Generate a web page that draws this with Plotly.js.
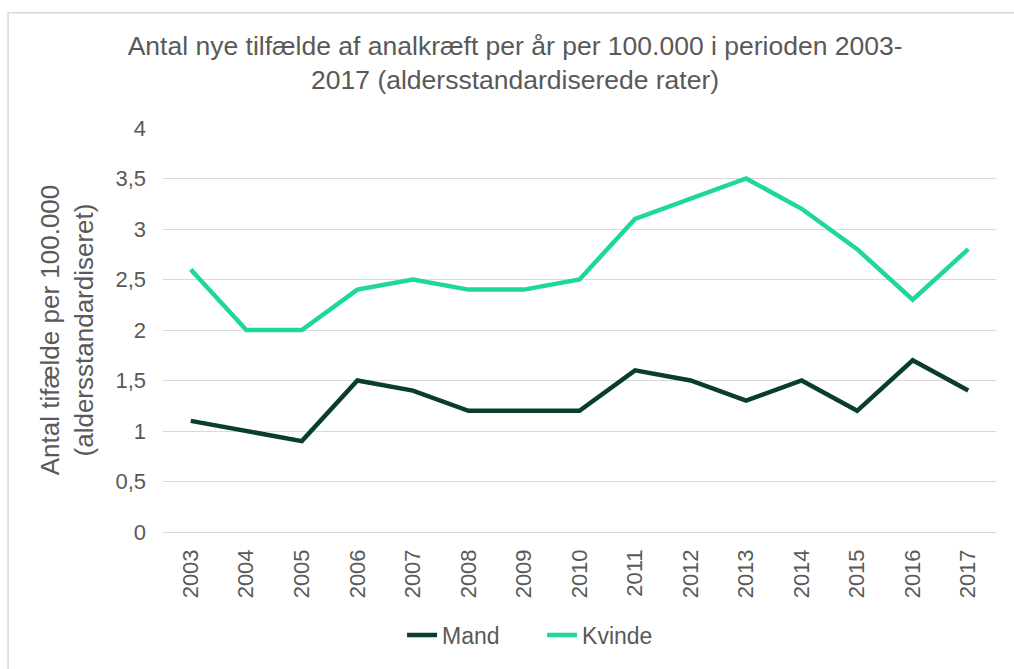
<!DOCTYPE html>
<html>
<head>
<meta charset="utf-8">
<script src="https://cdn.plot.ly/plotly-3.0.1.min.js"></script>
<style>html,body{margin:0;padding:0;background:#fff;}#chart{width:1014px;height:669px;}</style>
</head>
<body>
<div id="chart"></div>
<script>
const years = ['2003','2004','2005','2006','2007','2008','2009','2010','2011','2012','2013','2014','2015','2016','2017'];
const mand = [1.1, 1.0, 0.9, 1.5, 1.4, 1.2, 1.2, 1.2, 1.6, 1.5, 1.3, 1.5, 1.2, 1.7, 1.4];
const kvinde = [2.6, 2.0, 2.0, 2.4, 2.5, 2.4, 2.4, 2.5, 3.1, 3.3, 3.5, 3.2, 2.8, 2.3, 2.8];
const seriesNames = ['Mand', 'Kvinde'];

const font = 'Arial, "Liberation Sans", sans-serif';
const gray = '#595959';

const traces = [
  {x: years, y: mand, name: seriesNames[0], type: 'scatter', mode: 'lines',
   line: {color: '#0a3d31', width: 4.5}},
  {x: years, y: kvinde, name: seriesNames[1], type: 'scatter', mode: 'lines',
   line: {color: '#1fd69b', width: 4.5}}
];

const layout = {
  width: 1014, height: 669,
  margin: {l: 163, r: 18, t: 128, b: 137},
  paper_bgcolor: '#fff', plot_bgcolor: '#fff',
  separators: ',.',
  font: {family: font, color: gray, size: 22},
  title: {
    text: 'Antal nye tilfælde af analkræft per år per 100.000 i perioden 2003-<br>2017 (aldersstandardiserede rater)',
    font: {family: font, size: 26.5, color: gray},
    x: 0.508, xanchor: 'center', y: 0.918, yanchor: 'middle', yref: 'container'
  },
  xaxis: {
    type: 'category', range: [-0.5, 14.5], tickangle: -90, showgrid: false, showline: false,
    ticks: '', tickfont: {size: 22, color: gray}, automargin: false, ticklabelstandoff: 12
  },
  yaxis: {
    range: [0, 4], dtick: 0.5, tick0: 0, showgrid: true, gridcolor: '#d9d9d9', gridwidth: 1,
    zeroline: true, zerolinecolor: '#d9d9d9', zerolinewidth: 1, showline: false, ticks: '',
    tickfont: {size: 22, color: gray}, automargin: false, ticklabelstandoff: 16,
    title: {text: 'Antal tifælde per 100.000<br>(aldersstandardiseret)', font: {size: 26, color: gray}, standoff: 14}
  },
  showlegend: true,
  legend: {orientation: 'h', x: 0.287, xanchor: 'left', y: -0.255, yanchor: 'middle',
    font: {size: 23, color: gray}, entrywidth: 95, entrywidthmode: 'pixels'},
  shapes: [
    {type: 'rect', xref: 'paper', yref: 'paper', x0: -0.186, x1: 1.2, y0: -0.5, y1: 1.285,
     line: {color: '#d9d9d9', width: 1.5}, fillcolor: 'rgba(0,0,0,0)', layer: 'below'}
  ]
};

Plotly.newPlot('chart', traces, layout, {displayModeBar: false, staticPlot: true});
</script>
</body>
</html>
